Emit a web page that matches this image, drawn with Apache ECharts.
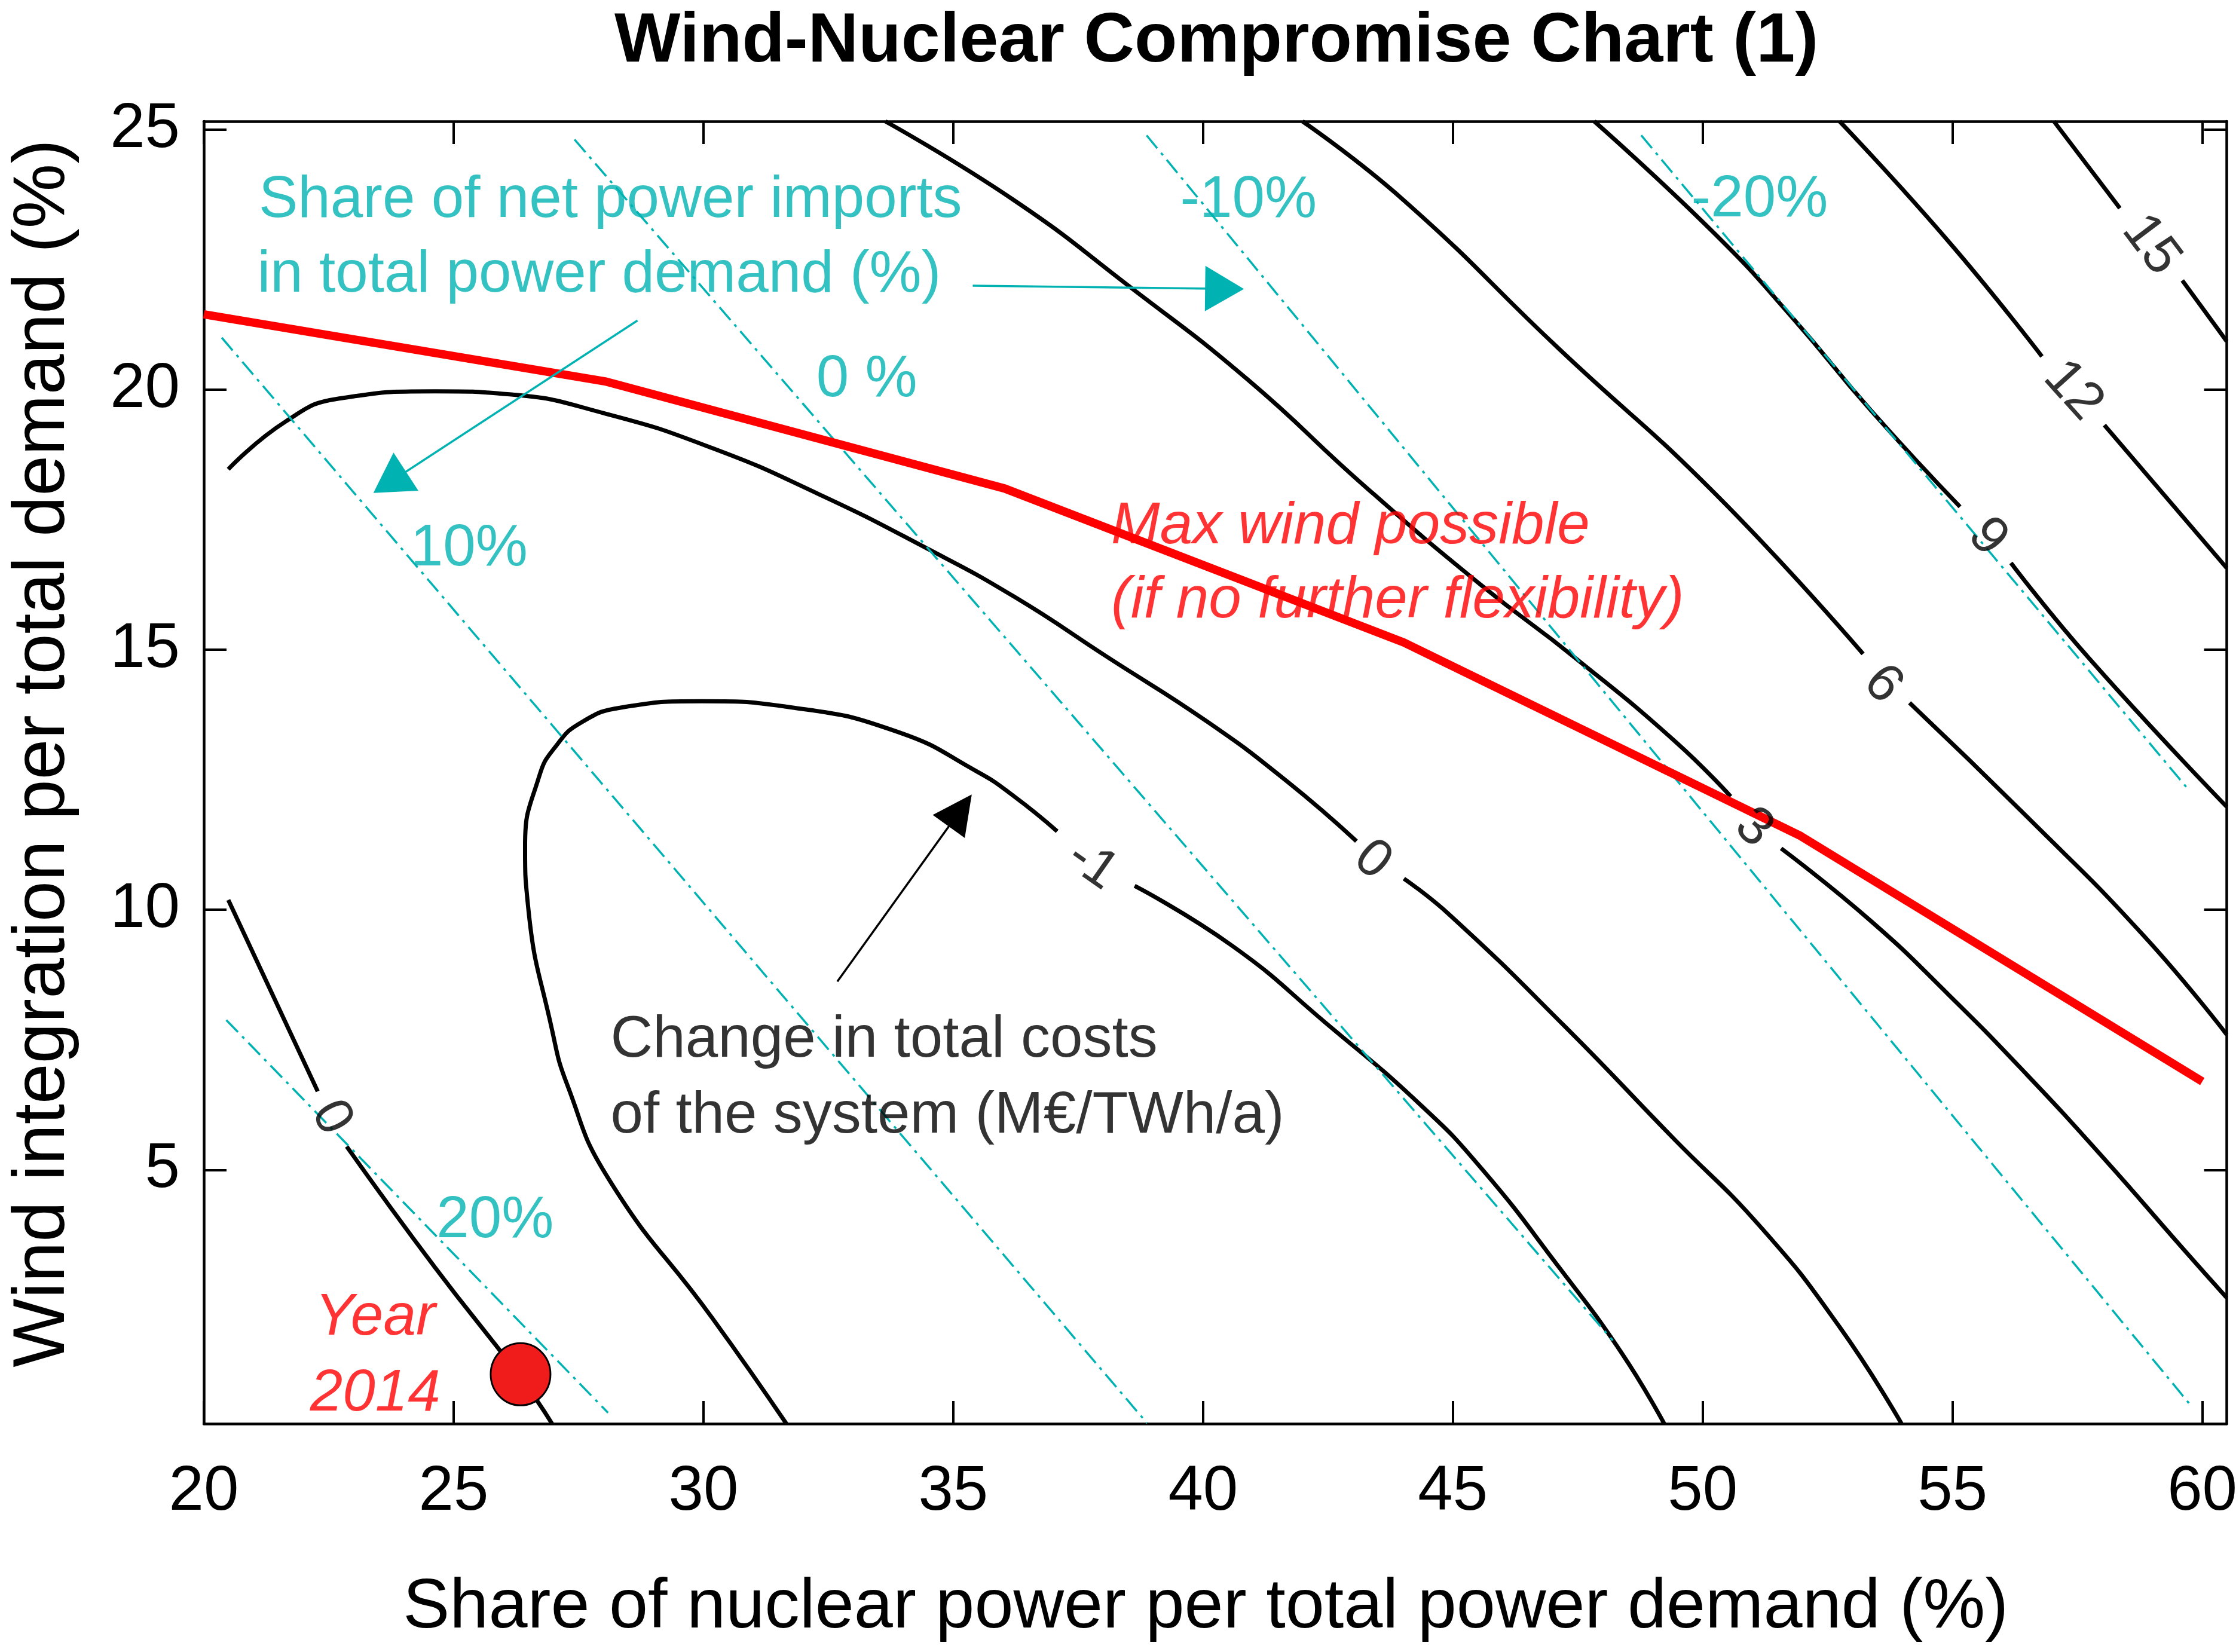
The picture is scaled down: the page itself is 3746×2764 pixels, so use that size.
<!DOCTYPE html>
<html>
<head>
<meta charset="utf-8">
<script src="https://cdn.jsdelivr.net/npm/echarts@6.0.0/dist/echarts.min.js"></script>
<style>
html,body{margin:0;padding:0;background:#fff;}
#chart{width:3746px;height:2764px;}
</style>
</head>
<body>
<div id="chart"></div>
<script>
// ---------- tick values ----------
const xTicks = [20, 25, 30, 35, 40, 45, 50, 55, 60];
const yTicks = [5, 10, 15, 20, 25];

// ---------- cost-change contours (M€/TWh/a); each contour = list of segments, gaps hold the labels ----------
const costZeroLow = [
  [[20.49, 10.19], [22.28, 6.51]],
  [[22.86, 5.45], [24.63, 3.12], [26.33, 1.02], [26.97, 0.12]]
];
const costMinusOne = [
  [[31.66, 0.12], [30.17, 2.16], [28.10, 4.83], [27.28, 6.62], [26.97, 7.69], [26.49, 10.07], [26.43, 11.22], [26.71, 12.56],
   [27.05, 13.15], [27.55, 13.60], [28.36, 13.89], [29.96, 14.01], [31.77, 13.89], [33.89, 13.42], [35.49, 12.65], [36.22, 12.18], [37.08, 11.51]],
  [[38.63, 10.46], [40.58, 9.31], [42.45, 7.83], [44.33, 6.27], [45.57, 5.03], [47.13, 3.12], [48.37, 1.49], [49.23, 0.12]]
];
const costZeroMid = [
  [[20.49, 18.47], [21.64, 19.39], [22.71, 19.83], [24.63, 19.97], [26.12, 19.91], [28.04, 19.54], [30.17, 18.88],
   [32.29, 18.00], [34.43, 16.97], [36.22, 16.02], [38.10, 14.85], [40.11, 13.60], [41.68, 12.47], [43.07, 11.32]],
  [[44.02, 10.60], [44.95, 9.89], [47.25, 7.75], [49.40, 5.62], [51.18, 3.88], [52.74, 1.98], [53.98, 0.12]]
];
const costThree = [
  [[33.64, 25.16], [36.22, 23.64], [38.56, 21.96], [40.90, 20.19], [43.23, 18.15], [45.57, 16.24], [47.44, 14.85], [49.47, 13.22], [50.56, 12.18]],
  [[51.57, 11.18], [53.36, 9.79], [54.93, 8.36], [56.48, 6.84], [58.04, 5.21], [59.60, 3.50], [60.49, 2.54]]
];
const costSix = [
  [[41.99, 25.16], [44.02, 23.64], [47.13, 20.78], [50.25, 18.00], [53.21, 14.92]],
  [[54.14, 13.98], [56.48, 11.80], [58.82, 9.51], [60.49, 7.60]]
];
const costNine = [
  [[47.83, 25.16], [50.25, 22.99], [51.81, 21.37], [53.36, 19.61], [55.15, 17.75]],
  [[56.17, 16.67], [57.72, 14.85], [60.49, 11.98]]
];
const costTwelve = [
  [[52.74, 25.16], [54.93, 22.84], [56.79, 20.64]],
  [[58.04, 19.32], [60.49, 16.57]]
];
const costFifteen = [
  [[57.03, 25.16], [58.35, 23.49]],
  [[59.60, 22.10], [60.49, 20.93]]
];
const contourLabels = ['15', '12', '9', '6', '3', '0', '-1', '0'];
const contourLabelPos = [[58.97, 22.78], [57.41, 19.98], [55.70, 17.16], [53.60, 14.33], [51.02, 11.57], [43.39, 10.95], [37.78, 10.86], [22.55, 6.00]];
const contourLabelAngle = [-53, -48, -48, -46, -42, -40, -35, -62];

// ---------- net power import share isolines (%) ----------
const imports20 = [[20.45, 7.88], [28.09, 0.33]];
const imports10 = [[20.36, 21.00], [38.88, 0.13]];
const imports0 = [[27.42, 24.81], [48.20, 1.72]];
const importsM10 = [[38.87, 24.89], [59.77, 0.47]];
const importsM20 = [[48.77, 24.89], [59.75, 12.28]];
const importLabels = ['20%', '10%', '0 %', '-10%', '-20%'];
const importLabelPos = [[25.83, 4.02], [25.31, 16.93], [33.27, 20.18], [40.91, 23.63], [51.14, 23.64]];

// ---------- max wind line & 2014 point ----------
const maxWind = [[20.00, 21.45], [28.03, 20.16], [36.03, 18.10], [44.02, 15.14], [51.96, 11.42], [60.00, 6.70]];
const year2014 = [[26.34, 1.07]];

// ---------- annotation texts ----------
const importsTitle = ['Share of net power imports', 'in total power demand (%)'];
const importsTitlePos = [[21.10, 23.63], [21.07, 22.19]];
const costTitle = ['Change in total costs', 'of the system (M€/TWh/a)'];
const costTitlePos = [[28.14, 7.49], [28.14, 6.03]];
const windTitle = ['Max wind possible', '(if no further flexibility)'];
const windTitlePos = [[38.16, 17.36], [38.16, 15.93]];
const yearLabel = ['Year', '2014'];
const yearLabelPos = [[23.43, 2.15], [23.43, 0.69]];

// ---------- arrows ----------
const arrowImportsRight = [[35.39, 22.00], [40.43, 21.94]];
const arrowImportsLeft = [[28.68, 21.33], [23.72, 18.22]];
const arrowCost = [[32.68, 8.62], [35.14, 11.91]];

// =====================================================
const FONT = '"Liberation Sans", Arial, Helvetica, sans-serif';
const TEAL = '#00B2B2';
const RED = '#FF0000';

const series = [];
[costZeroLow, costMinusOne, costZeroMid, costThree, costSix, costNine, costTwelve, costFifteen].forEach(segs => {
  segs.forEach(seg => series.push({
    type: 'line', data: seg, symbol: 'none', smooth: 0.5, smoothMonotone: 'none',
    lineStyle: { color: '#000', width: 7 }, z: 2, silent: true
  }));
});
[imports20, imports10, imports0, importsM10, importsM20].forEach(d => series.push({
  type: 'line', data: d, symbol: 'none',
  lineStyle: { color: TEAL, width: 3.5, type: [28, 10, 5, 10] }, z: 3, silent: true
}));
series.push({
  type: 'line', data: maxWind, symbol: 'none',
  lineStyle: { color: RED, width: 14, join: 'round', cap: 'butt' }, z: 4, silent: true
});
series.push({
  type: 'scatter', data: year2014, symbol: 'circle', symbolSize: [100, 104],
  itemStyle: { color: '#F01C1C', borderColor: '#000', borderWidth: 3, opacity: 1 }, z: 5, silent: true
});

function arrow(coords, color, head) {
  return {
    type: 'lines', coordinateSystem: 'cartesian2d', xAxisIndex: 0, yAxisIndex: 0,
    symbol: ['none', 'triangle'], symbolSize: [10, head],
    lineStyle: { color: color, width: 3.5, opacity: 1, curveness: 0 },
    data: [{ coords: coords }], z: 6, silent: true
  };
}
series.push(arrow(arrowImportsRight, TEAL, [76, 65]));
series.push(arrow(arrowImportsLeft, TEAL, [76, 65]));
series.push(arrow(arrowCost, '#000', [66, 66]));

function textSeries(texts, pos, style, angles) {
  return {
    type: 'scatter', symbol: 'circle', symbolSize: 1, z: 8, silent: true,
    itemStyle: { color: 'rgba(0,0,0,0)' },
    label: Object.assign({ show: true, position: 'inside', formatter: '{b}', fontFamily: FONT, verticalAlign: 'middle' }, style),
    data: texts.map((t, i) => {
      const item = { name: t, value: pos[i] };
      if (angles) item.label = { rotate: angles[i] };
      return item;
    })
  };
}
series.push(textSeries(contourLabels, contourLabelPos, { color: '#000', fontSize: 90, align: 'center' }, contourLabelAngle));
series.push(textSeries(importLabels, importLabelPos, { color: TEAL, fontSize: 98, align: 'center' }));
series.push(textSeries(importsTitle, importsTitlePos, { color: TEAL, fontSize: 98, align: 'left' }));
series.push(textSeries(costTitle, costTitlePos, { color: '#000', fontSize: 98, align: 'left' }));
series.push(textSeries(windTitle, windTitlePos, { color: RED, fontSize: 98, align: 'left', fontStyle: 'italic' }));
series.push(textSeries(yearLabel, yearLabelPos, { color: RED, fontSize: 98, align: 'center', fontStyle: 'italic' }));

const axisLine = { show: true, onZero: false, lineStyle: { color: '#000', width: 4.5 } };
const tickStyle = { color: '#000', width: 4 };

const option = {
  animation: false,
  backgroundColor: '#fff',
  title: {
    text: 'Wind-Nuclear Compromise Chart (1)', left: 1028, top: 12, padding: 0,
    textStyle: { fontFamily: FONT, fontWeight: 'bold', fontSize: 117, color: '#000' }
  },
  grid: { left: 341, right: 13, top: 203, bottom: 382 },
  xAxis: [
    {
      type: 'value', min: 20, max: 60.49, position: 'bottom',
      axisLine: axisLine,
      axisTick: { show: true, inside: true, length: 38, lineStyle: tickStyle, customValues: xTicks },
      axisLabel: { show: true, customValues: xTicks, fontSize: 105, color: '#000', fontFamily: FONT, margin: 63 },
      splitLine: { show: false },
      name: 'Share of nuclear power per total power demand (%)', nameLocation: 'middle', nameGap: 250,
      nameTextStyle: { fontSize: 117, color: '#000', fontFamily: FONT, padding: [0, 32, 0, 0] }
    },
    {
      type: 'value', min: 20, max: 60.49, position: 'top',
      axisLine: axisLine,
      axisTick: { show: true, inside: true, length: 38, lineStyle: tickStyle, customValues: xTicks },
      axisLabel: { show: false },
      splitLine: { show: false }
    }
  ],
  yAxis: [
    {
      type: 'value', min: 0.12, max: 25.16, position: 'left',
      axisLine: axisLine,
      axisTick: { show: true, inside: true, length: 38, lineStyle: tickStyle, customValues: yTicks },
      axisLabel: { show: true, customValues: yTicks, fontSize: 105, color: '#000', fontFamily: FONT, margin: 40 },
      splitLine: { show: false },
      name: 'Wind integration per total demand (%)', nameLocation: 'middle', nameGap: 207, nameRotate: 90,
      nameTextStyle: { fontSize: 122, color: '#000', fontFamily: FONT, padding: [0, 0, 0, 64] }
    },
    {
      type: 'value', min: 0.12, max: 25.16, position: 'right',
      axisLine: axisLine,
      axisTick: { show: true, inside: true, length: 38, lineStyle: tickStyle, customValues: yTicks },
      axisLabel: { show: false },
      splitLine: { show: false }
    }
  ],
  series: series
};

const chart = echarts.init(document.getElementById('chart'), null, { renderer: 'canvas', width: 3746, height: 2764 });
chart.setOption(option);
</script>
</body>
</html>
